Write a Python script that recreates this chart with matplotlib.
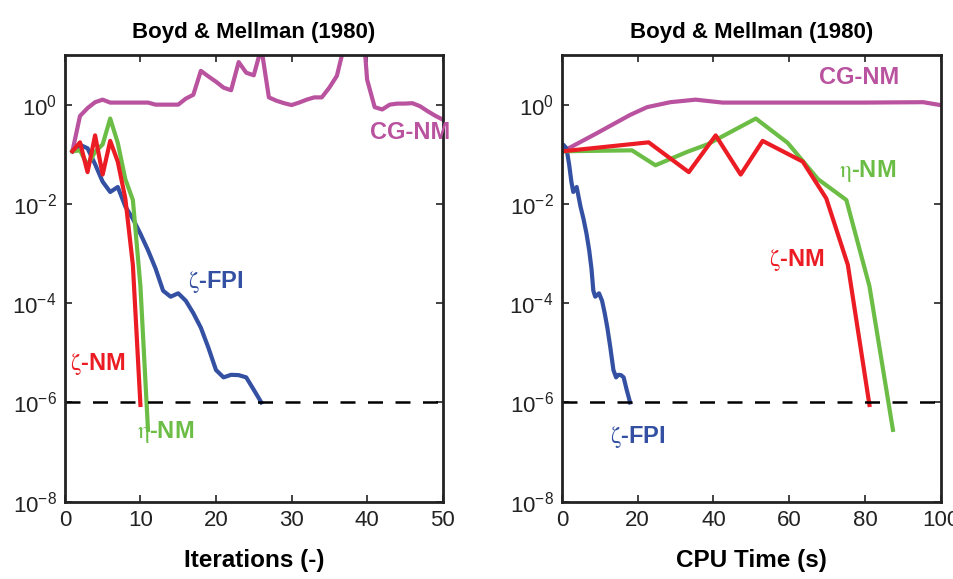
import numpy as np
import matplotlib
matplotlib.use('Agg')
import matplotlib.pyplot as plt
from matplotlib.ticker import LogLocator, NullLocator

plt.rcParams['font.family'] = ['Liberation Sans', 'DejaVu Sans']
plt.rcParams['mathtext.fontset'] = 'stix'
plt.rcParams['axes.unicode_minus'] = False

# Невязка по итерациям (левый график)
iter_cg = np.arange(1, 51)
res_cg = [0.115, 0.59, 0.85, 1.12, 1.26, 1.1, 1.1, 1.1, 1.1, 1.1,
          1.1, 1.0, 1.0, 1.0, 1.0, 1.32, 1.58, 4.8, 3.7, 2.9,
          2.2, 1.95, 7.2, 4.4, 3.9, 14.0, 1.4, 1.2, 1.07, 0.98,
          1.1, 1.26, 1.4, 1.4, 2.2, 3.8, 16.0, 63.0, 320.0, 3.2,
          0.89, 0.8, 1.0, 1.05, 1.05, 1.07, 0.93, 0.74, 0.6, 0.5]

iter_fpi = np.arange(1, 27)
res_fpi = [0.115, 0.155, 0.132, 0.063, 0.028, 0.0174, 0.0219, 0.0089, 0.005, 0.0025,
           0.00117, 5.0e-4, 1.78e-4, 1.35e-4, 1.58e-4, 1.12e-4, 6.3e-5, 3.2e-5, 1.26e-5, 4.5e-6,
           3.2e-6, 3.6e-6, 3.55e-6, 3.2e-6, 1.8e-6, 1.0e-6]

iter_znm = np.arange(1, 11)
res_znm = [0.115, 0.174, 0.0437, 0.24, 0.039, 0.186, 0.071, 0.0129, 5.9e-4, 8.9e-7]

iter_enm = np.arange(1, 12)
res_enm = [0.115, 0.12, 0.06, 0.112, 0.158, 0.525, 0.17, 0.0316, 0.012, 2.2e-4, 2.8e-7]

# Время счёта (правый график)
time_cg = [0.3, 9, 18, 22.5, 28.6, 35.3, 42.4, 60, 80, 95.4, 101]
res_cg_t = [0.115, 0.26, 0.62, 0.89, 1.12, 1.26, 1.1, 1.1, 1.1, 1.12, 0.95]
time_fpi = [0, 0.4, 1.2, 1.9, 2.5, 3.0, 3.9, 4.9, 5.7, 6.5, 7.2, 7.8, 8.3, 8.8,
            9.8, 10.6, 11.3, 12.0, 12.8, 13.6, 14.3, 14.9, 15.6, 16.3, 17.1, 18.0]
time_znm = [0.3, 22.9, 33.5, 40.6, 47.2, 53.0, 63.6, 69.8, 75.5, 81.2]
time_enm = [0.3, 18.5, 24.7, 33.1, 38.4, 51.2, 59.6, 67.6, 75.1, 81.2, 87.4]

tolerance = 1e-6

c_cg = '#B9529F'
c_fpi = '#3450A2'
c_znm = '#EC1C24'
c_enm = '#6CBD45'

fig = plt.figure(figsize=(9.54, 5.79), dpi=100)
ax1 = fig.add_axes([0.068, 0.1335, 0.396, 0.7715])
ax2 = fig.add_axes([0.589, 0.1335, 0.397, 0.7715])

lw = 3.0
ax1.plot(iter_cg, res_cg, color=c_cg, lw=lw)
ax1.plot(iter_fpi, res_fpi, color=c_fpi, lw=lw)
ax1.plot(iter_enm, res_enm, color=c_enm, lw=lw)
ax1.plot(iter_znm, res_znm, color=c_znm, lw=lw)

ax2.plot(time_cg, res_cg_t, color=c_cg, lw=lw)
ax2.plot(time_fpi, res_fpi, color=c_fpi, lw=lw)
ax2.plot(time_enm, res_enm, color=c_enm, lw=lw)
ax2.plot(time_znm, res_znm, color=c_znm, lw=lw)

# Подписи кривых, греческие буквы прямым шрифтом
zeta = r'$\mathrm{\zeta}$'
eta = r'$\mathrm{\eta}$'
label_kw = dict(fontsize=17, fontweight='bold', ha='left', va='center')
ax1.text(40.4, 0.27, 'CG-NM', color=c_cg, **label_kw)
ax1.text(16.3, 2.7e-4, zeta + '-FPI', color=c_fpi, **label_kw)
ax1.text(0.7, 6e-6, zeta + '-NM', color=c_znm, **label_kw)
ax1.text(9.6, 2.5e-7, eta + '-NM', color=c_enm, **label_kw)

ax2.text(67.9, 3.5, 'CG-NM', color=c_cg, **label_kw)
ax2.text(73.2, 0.045, eta + '-NM', color=c_enm, **label_kw)
ax2.text(54.6, 7.5e-4, zeta + '-NM', color=c_znm, **label_kw)
ax2.text(12.7, 2.0e-7, zeta + '-FPI', color=c_fpi, **label_kw)

for ax, xmax, xticks, xlabel in [(ax1, 50, [0, 10, 20, 30, 40, 50], 'Iterations (-)'),
                                 (ax2, 100, [0, 20, 40, 60, 80, 100], 'CPU Time (s)')]:
    ax.axhline(tolerance, color='black', lw=1.8, dashes=(6, 5))
    ax.set_yscale('log')
    ax.set_ylim(1e-8, 10)
    ax.set_xlim(0, xmax)
    ax.set_xticks(xticks)
    ax.yaxis.set_major_locator(LogLocator(base=100))
    ax.yaxis.set_minor_locator(NullLocator())
    ax.tick_params(direction='in', top=True, right=True, length=5, width=1.2,
                   labelsize=16, colors='#222222', pad=6)
    for s in ax.spines.values():
        s.set_linewidth(2)
        s.set_color('#222222')
    ax.set_xlabel(xlabel, fontsize=17.5, fontweight='bold', labelpad=13)
    ax.set_title('Boyd & Mellman (1980)', fontsize=16, fontweight='bold', pad=12)

plt.savefig('out.png', dpi=100)
